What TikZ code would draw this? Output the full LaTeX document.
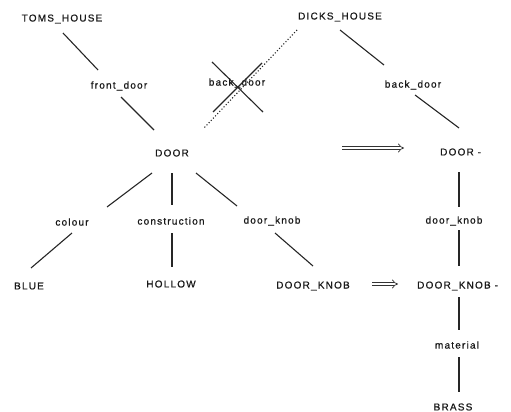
\documentclass[tikz,border=0pt]{standalone}
\usepackage{fontspec}
\setmainfont{Liberation Sans}[LetterSpace=12,FakeBold=0.8]
\usetikzlibrary{calc,arrows.meta}
\begin{document}
\begin{tikzpicture}[x=1pt,y=-1pt,
  lbl/.style={inner sep=0pt,font=\fontsize{10}{12}\selectfont,text=black!90},
  edge/.style={line width=1.1pt,draw=black!85},
  dots/.style={line width=1.1pt,draw=black!85,dotted},
  implies/.style={double,double distance=2.4pt,line width=0.7pt,draw=black!80,-{Implies[length=5pt]}}]
\useasboundingbox (0,0) rectangle (511,412);
\node[lbl] (toms) at (62,19) {TOMS\_HOUSE};
\node[lbl] (dicks) at (340,17) {DICKS\_HOUSE};
\node[lbl] (front) at (119,86) {front\_door};
\node[lbl] (bdx) at (237,83) {back\_door};
\node[lbl] (bd2) at (413,85) {back\_door};
\node[lbl] (door) at (172,153) {DOOR};
\node[lbl,anchor=west] (door2) at (440,152) {DOOR -};
\node[lbl] (colour) at (72,222) {colour};
\node[lbl] (constr) at (171,221) {construction};
\node[lbl] (dk) at (272,221) {door\_knob};
\node[lbl] (dk2) at (454,221) {door\_knob};
\node[lbl] (blue) at (29,286) {BLUE};
\node[lbl] (hollow) at (171,284) {HOLLOW};
\node[lbl] (DK) at (313,286) {DOOR\_KNOB};
\node[lbl,anchor=west] (DK2) at (417,286) {DOOR\_KNOB -};
\node[lbl] (mat) at (457,345) {material};
\node[lbl] (brass) at (453,407) {BRASS};
\coordinate (a1s) at (342,148);
\coordinate (a1e) at (404,148);
\coordinate (a2s) at (372,284);
\coordinate (a2e) at (398,284);
% left tree
\draw[edge] ($(toms)+(1,14)$) -- ($(front)+(-21,-16)$);
\draw[edge] ($(front)+(2,11)$) -- ($(door)+(-18,-23)$);
\draw[edge] ($(door)+(-20,20)$) -- ($(colour)+(35,-15)$);
\draw[edge] ($(door)+(0,20)$) -- ($(constr)+(1,-16)$);
\draw[edge] ($(door)+(24,20)$) -- ($(dk)+(-35,-15)$);
\draw[edge] ($(colour)+(0,11)$) -- ($(blue)+(2,-18)$);
\draw[edge] ($(constr)+(1,12)$) -- ($(hollow)+(1,-17)$);
\draw[edge] ($(dk)+(3,12)$) -- ($(DK)+(0,-20)$);
% crossed back_door and dotted link
\draw[edge] ($(bdx)+(-25,-21)$) -- ($(bdx)+(26,29)$);
\draw[edge] ($(bdx)+(-24,29)$) -- ($(bdx)+(25,-20)$);
\draw[dots] ($(dicks)+(-43,13)$) -- ($(door)+(32,-25)$);
% right tree
\draw[edge] ($(dicks)+(0,13)$) -- ($(bd2)+(-29,-20)$);
\draw[edge] ($(bd2)+(2,10)$) -- ($(door2.west)+(19,-24)$);
\draw[edge] ($(door2.west)+(19,20)$) -- ($(dk2)+(5,-14)$);
\draw[edge] ($(dk2)+(5,9)$) -- ($(DK2.west)+(42,-20)$);
\draw[edge] ($(DK2.west)+(42,11)$) -- ($(mat)+(2,-15)$);
\draw[edge] ($(mat)+(2,12)$) -- ($(brass)+(6,-15)$);
% implication arrows
\draw[implies] (a1s) -- (a1e);
\draw[implies] (a2s) -- (a2e);
\end{tikzpicture}
\end{document}
